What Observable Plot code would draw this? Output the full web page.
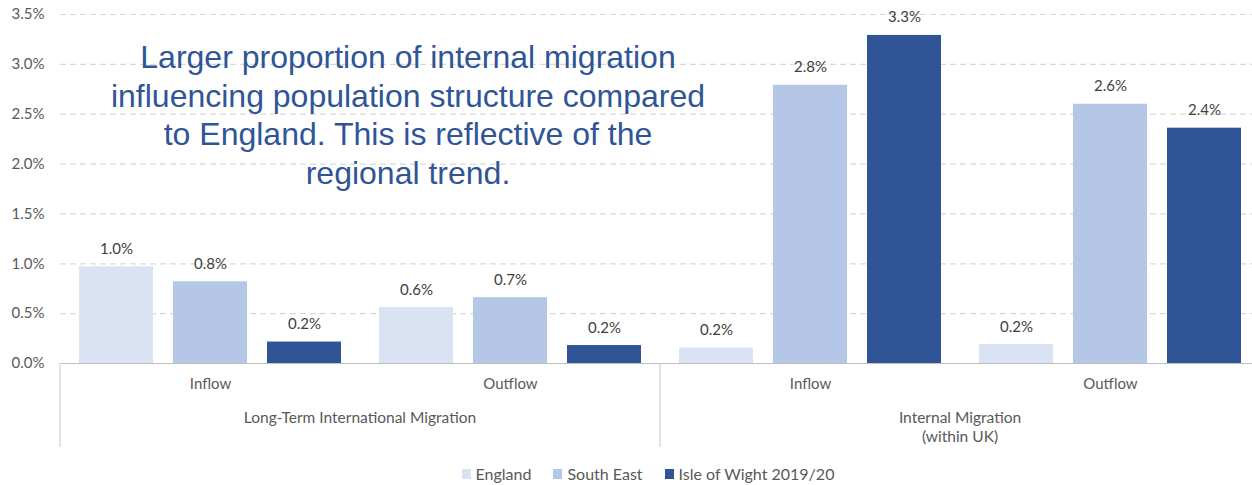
<!DOCTYPE html>
<html>
<head>
<meta charset="utf-8">
<script src="https://cdn.jsdelivr.net/npm/d3@7"></script>
<script src="https://cdn.jsdelivr.net/npm/@observablehq/plot@0.6"></script>
<style>
  html, body { margin: 0; padding: 0; background: #fff; }
  #wrap { position: relative; width: 1252px; height: 485px; overflow: hidden; font-family: Lato, "Open Sans", sans-serif; }
  #wrap svg { overflow: visible; }
  #note { position: absolute; left: 108px; top: 38px; width: 600px; text-align: center;
          font-family: "Liberation Sans", Arial, sans-serif; font-size: 32px; line-height: 38.5px; color: #2F5597; }
  #legend { display: flex; justify-content: center; gap: 22px; font-size: 16px; color: #595959; margin-top: 6px; padding-left: 44px; }
  #legend span.item { display: inline-flex; align-items: center; }
  #legend span.sw { display: inline-block; width: 9px; height: 10px; margin-right: 5px; }
</style>
</head>
<body>
<div id="wrap"></div>
<script>
const groups = ["Long-Term International Migration", "Internal Migration\n(within UK)"];
const flows = ["Inflow", "Outflow"];
const categories = ["LTIM|Inflow", "LTIM|Outflow", "IM|Inflow", "IM|Outflow"];
const categoryGroup = [0, 0, 1, 1];
const series = ["England", "South East", "Isle of Wight 2019/20"];
const colors = ["#DAE3F3", "#B4C7E7", "#2F5597"];
const englandValues = [0.97, 0.56, 0.155, 0.19];
const southEastValues = [0.82, 0.66, 2.79, 2.60];
const isleOfWightValues = [0.215, 0.18, 3.29, 2.36];
const yTicks = [0, 0.5, 1, 1.5, 2, 2.5, 3, 3.5];
const noteText = "Larger proportion of internal migration influencing population structure compared to England. This is reflective of the regional trend.";

const seriesValues = [englandValues, southEastValues, isleOfWightValues];
const data = [];
categories.forEach((c, i) => series.forEach((s, j) => data.push({cat: c, series: s, value: seriesValues[j][i]})));

const W = 1252, H = 458;
const plot = Plot.plot({
  width: W, height: H,
  marginLeft: 60, marginRight: -8, marginTop: 14, marginBottom: 95,
  style: {fontFamily: "Lato, 'Open Sans', sans-serif", fontSize: "15px", color: "#595959", background: "#fff", overflow: "visible"},
  fx: {domain: categories, padding: 0, label: null, axis: "bottom", tickSize: 0, tickPadding: 15,
       tickFormat: d => d.split("|")[1]},
  x: {domain: series, paddingInner: 0.213, paddingOuter: 0.192, axis: null},
  y: {domain: [0, 3.5], ticks: yTicks, tickSize: 0, tickPadding: 16, label: null,
      tickFormat: d => d.toFixed(1) + "%"},
  color: {domain: series, range: colors},
  marks: [
    Plot.ruleY(yTicks.filter(d => d > 0), {stroke: "#D9D9D9", strokeDasharray: "6,4", strokeWidth: 1.2}),
    Plot.barY(data, {fx: "cat", x: "series", y: "value", fill: "series"}),
    Plot.ruleY([0], {stroke: "#BFBFBF", strokeWidth: 1.2}),
    Plot.text(data, {fx: "cat", x: "series", y: "value", text: d => d.value.toFixed(1) + "%",
      lineAnchor: "bottom", dy: -13, fill: "#404040", fontSize: 15})
  ]
});

// Group labels and separators placed from the fx scale
const svg = d3.select(plot);
const fx = plot.scale("fx");
const x0 = fx.range[0], step = (fx.range[1] - fx.range[0]) / categories.length;
const yBase = H - 95;
const g = svg.append("g");
[0, 2].forEach(i => {
  const xp = x0 + i * step;
  g.append("line").attr("x1", xp).attr("x2", xp).attr("y1", yBase).attr("y2", yBase + 84)
    .attr("stroke", "#D0D0D0").attr("stroke-width", 1.2);
});
groups.forEach((name, gi) => {
  const idx = categoryGroup.map((v, i) => v === gi ? i : -1).filter(i => i >= 0);
  const cx = x0 + (idx[0] + idx[idx.length - 1] + 1) / 2 * step;
  const t = g.append("text").attr("x", cx).attr("y", yBase + 60).attr("text-anchor", "middle")
    .attr("fill", "#595959").attr("font-size", 15.5);
  name.split("\n").forEach((line, k) => t.append("tspan").attr("x", cx).attr("dy", k === 0 ? 0 : 19).text(line));
});

const wrap = document.getElementById("wrap");
wrap.appendChild(plot);
const note = document.createElement("div");
note.id = "note";
note.textContent = noteText;
wrap.appendChild(note);

const legend = document.createElement("div");
legend.id = "legend";
series.forEach((s, i) => {
  const item = document.createElement("span");
  item.className = "item";
  const sw = document.createElement("span");
  sw.className = "sw";
  sw.style.background = colors[i];
  item.appendChild(sw);
  item.appendChild(document.createTextNode(s));
  legend.appendChild(item);
});
wrap.appendChild(legend);
</script>
</body>
</html>
